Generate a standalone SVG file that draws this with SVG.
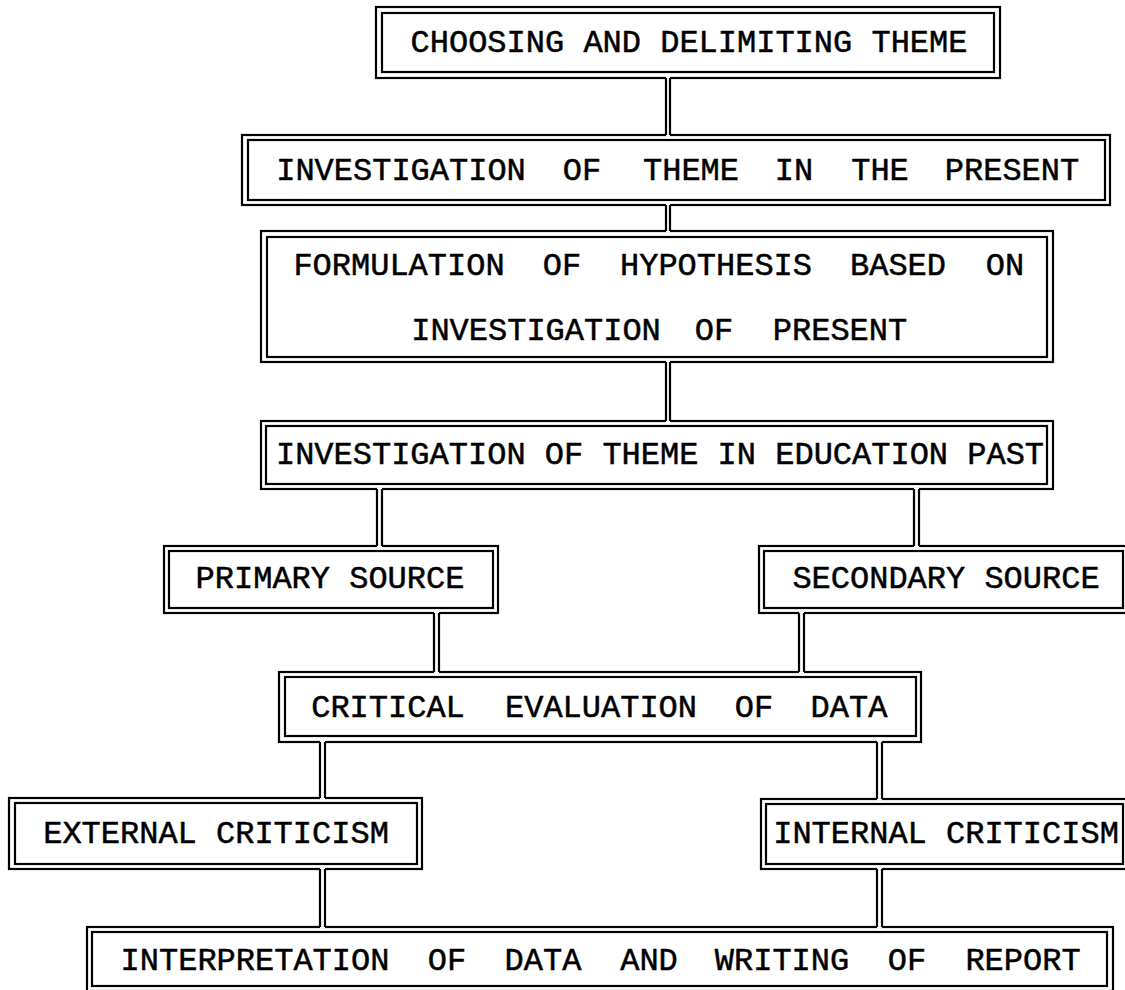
<svg xmlns="http://www.w3.org/2000/svg" width="1125" height="990" viewBox="0 0 1125 990">
  <style>
    .frame { fill: none; stroke: #000; stroke-width: 2.2; }
    .lbl { font-family: "Liberation Mono", "Courier New", monospace; font-size: 32px; fill: #000; stroke: #000; stroke-width: 0.5; text-anchor: middle; }
    .gap { fill: #fff; }
    .wire { fill: none; stroke: #000; stroke-width: 2.2; }
  </style>
  <rect width="1125" height="990" fill="#fff"/>

  <!-- double-ruled boxes: outer rule + inner rule -->
  <g id="n-choose">
    <rect class="frame" x="376" y="7" width="624" height="71"/>
    <rect class="frame" x="382" y="13" width="612" height="59"/>
    <text class="lbl" x="689" y="52">CHOOSING AND DELIMITING THEME</text>
  </g>

  <g id="n-present">
    <rect class="frame" x="242" y="135" width="868" height="70"/>
    <rect class="frame" x="248" y="140" width="857" height="60"/>
    <text class="lbl" y="180"><tspan x="401">INVESTIGATION</tspan><tspan x="582">OF</tspan><tspan x="691">THEME</tspan><tspan x="794">IN</tspan><tspan x="880">THE</tspan><tspan x="1012">PRESENT</tspan></text>
  </g>

  <g id="n-hypothesis">
    <rect class="frame" x="261" y="231" width="792" height="131"/>
    <rect class="frame" x="267" y="237" width="780" height="120"/>
    <text class="lbl" y="275"><tspan x="399">FORMULATION</tspan><tspan x="562">OF</tspan><tspan x="716">HYPOTHESIS</tspan><tspan x="898">BASED</tspan><tspan x="1005">ON</tspan></text>
    <text class="lbl" y="340"><tspan x="536">INVESTIGATION</tspan><tspan x="714">OF</tspan><tspan x="840">PRESENT</tspan></text>
  </g>

  <g id="n-past">
    <rect class="frame" x="261" y="421" width="792" height="68"/>
    <rect class="frame" x="266" y="426" width="781" height="58"/>
    <text class="lbl" x="660" y="464">INVESTIGATION OF THEME IN EDUCATION PAST</text>
  </g>

  <g id="n-primary">
    <rect class="frame" x="164" y="546" width="334" height="67"/>
    <rect class="frame" x="169" y="551" width="324" height="57"/>
    <text class="lbl" x="330" y="588">PRIMARY SOURCE</text>
  </g>

  <g id="n-secondary">
    <rect class="frame" x="759" y="546" width="369" height="67"/>
    <rect class="frame" x="764" y="551" width="359" height="57"/>
    <text class="lbl" x="946" y="588">SECONDARY SOURCE</text>
  </g>

  <g id="n-evaluation">
    <rect class="frame" x="279" y="672" width="642" height="70"/>
    <rect class="frame" x="285" y="677" width="631" height="59"/>
    <text class="lbl" y="717"><tspan x="388">CRITICAL</tspan><tspan x="601">EVALUATION</tspan><tspan x="754">OF</tspan><tspan x="849">DATA</tspan></text>
  </g>

  <g id="n-external">
    <rect class="frame" x="9" y="798" width="413" height="71"/>
    <rect class="frame" x="15" y="803" width="402" height="61"/>
    <text class="lbl" x="216" y="843">EXTERNAL CRITICISM</text>
  </g>

  <g id="n-internal">
    <rect class="frame" x="761" y="799" width="367" height="70"/>
    <rect class="frame" x="766" y="804" width="357" height="60"/>
    <text class="lbl" x="946" y="843">INTERNAL CRITICISM</text>
  </g>

  <g id="n-report">
    <rect class="frame" x="87" y="927" width="1026" height="64"/>
    <rect class="frame" x="92" y="932" width="1015" height="54"/>
    <text class="lbl" y="970"><tspan x="255">INTERPRETATION</tspan><tspan x="447">OF</tspan><tspan x="543">DATA</tspan><tspan x="649">AND</tspan><tspan x="782">WRITING</tspan><tspan x="907">OF</tspan><tspan x="1023">REPORT</tspan></text>
  </g>

  <!-- double-ruled connectors; the white strip opens the outer rule where a connector meets a box -->
  <g id="connectors">
    <rect class="gap" x="666" y="76.5" width="4" height="60"/>
    <path class="wire" d="M666 78V135M670 78V135"/>
    <rect class="gap" x="666" y="203.5" width="4" height="29"/>
    <path class="wire" d="M666 205V231M670 205V231"/>
    <rect class="gap" x="666" y="360.5" width="4" height="62"/>
    <path class="wire" d="M666 362V421M670 362V421"/>
    <rect class="gap" x="377" y="487.5" width="5" height="60"/>
    <path class="wire" d="M377 489V546M382 489V546"/>
    <rect class="gap" x="914" y="487.5" width="5" height="60"/>
    <path class="wire" d="M914 489V546M919 489V546"/>
    <rect class="gap" x="434" y="611.5" width="5" height="62"/>
    <path class="wire" d="M434 613V672M439 613V672"/>
    <rect class="gap" x="799" y="611.5" width="5" height="62"/>
    <path class="wire" d="M799 613V672M804 613V672"/>
    <rect class="gap" x="320" y="740.5" width="5" height="59"/>
    <path class="wire" d="M320 742V798M325 742V798"/>
    <rect class="gap" x="877" y="740.5" width="5" height="60"/>
    <path class="wire" d="M877 742V799M882 742V799"/>
    <rect class="gap" x="320" y="867.5" width="5" height="61"/>
    <path class="wire" d="M320 869V927M325 869V927"/>
    <rect class="gap" x="877" y="867.5" width="5" height="61"/>
    <path class="wire" d="M877 869V927M882 869V927"/>
  </g>
</svg>
